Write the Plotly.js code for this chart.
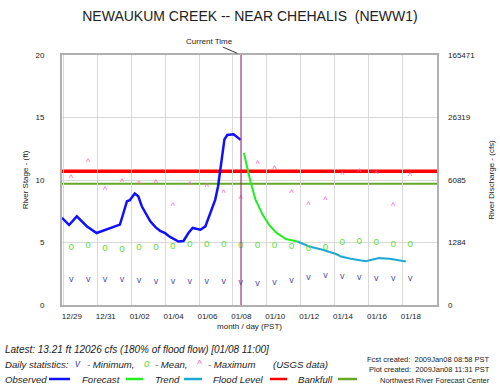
<!DOCTYPE html>
<html><head><meta charset="utf-8">
<script src="https://cdn.plot.ly/plotly-3.0.1.min.js"></script>
<style>html,body{margin:0;padding:0;background:#fff}#chart{width:500px;height:389px}</style>
</head><body><div id="chart"></div>
<script>
// ---------- data ----------
const obsTime = ['2008-12-28 22:00','2008-12-29 08:00','2008-12-29 19:00','2008-12-30 09:00','2008-12-30 23:00',
  '2008-12-31 13:00','2009-01-01 01:00','2009-01-01 08:00','2009-01-01 13:00','2009-01-01 18:00','2009-01-01 22:00',
  '2009-01-02 05:00','2009-01-02 10:00','2009-01-02 15:00','2009-01-03 03:00','2009-01-03 10:00','2009-01-03 17:00',
  '2009-01-04 00:00','2009-01-04 07:00','2009-01-04 19:00','2009-01-05 02:00','2009-01-05 09:00','2009-01-05 15:00',
  '2009-01-06 02:00','2009-01-06 09:00','2009-01-06 16:00','2009-01-06 23:00','2009-01-07 03:00','2009-01-07 06:00',
  '2009-01-07 09:00','2009-01-07 12:00','2009-01-07 16:00','2009-01-08 01:00','2009-01-08 11:00'];
const obsStage = [6.98,6.4,7.09,6.3,5.76,6.02,6.29,6.43,7.36,8.3,8.38,8.92,8.7,7.9,6.7,6.25,5.92,
  5.75,5.45,5.08,5.12,5.76,6.16,6.02,6.29,7.36,8.43,9.5,10.84,12.18,13.25,13.6,13.65,13.21];

const fcstTime = ['2009-01-08 15:30','2009-01-08 20:30','2009-01-09 01:00','2009-01-09 08:00','2009-01-09 18:00',
  '2009-01-10 03:00','2009-01-10 13:00','2009-01-11 03:00','2009-01-11 19:30'];
const fcstStage = [12.18,10.84,9.85,8.43,7.23,6.43,5.81,5.28,5.08];

const trendTime = ['2009-01-11 19:30','2009-01-12 12:00','2009-01-13 07:00','2009-01-14 02:00','2009-01-14 09:00',
  '2009-01-14 23:00','2009-01-15 20:00','2009-01-16 15:00','2009-01-17 06:00','2009-01-18 05:00'];
const trendStage = [5.08,4.68,4.42,4.08,3.88,3.7,3.5,3.75,3.7,3.48];

const statDays = ['2008-12-29 11:00','2008-12-30 11:00','2008-12-31 11:00','2009-01-01 11:00','2009-01-02 11:00',
  '2009-01-03 11:00','2009-01-04 11:00','2009-01-05 11:00','2009-01-06 11:00','2009-01-07 11:00','2009-01-08 11:00',
  '2009-01-09 11:00','2009-01-10 11:00','2009-01-11 11:00','2009-01-12 11:00','2009-01-13 11:00','2009-01-14 11:00',
  '2009-01-15 11:00','2009-01-16 11:00','2009-01-17 11:00','2009-01-18 11:00'];
const statMin  = [2.06,2.06,2.06,2.0,1.93,1.87,1.87,1.87,1.87,1.87,1.79,1.74,1.79,1.95,2.22,2.33,2.28,2.22,2.14,2.14,2.09];
const statMean = [4.6,4.79,4.52,4.47,4.6,4.6,4.66,4.87,4.87,4.87,4.79,4.79,4.79,4.66,4.52,4.6,4.98,5.08,4.98,4.82,4.88];
const statMax  = [10.12,11.38,9.18,9.77,9.64,9.72,7.85,9.58,9.37,8.92,8.43,11.24,10.82,8.92,7.98,8.38,10.36,10.58,10.44,7.9,10.3];

const floodLevel = 10.7;
const bankfull = 9.7;
const currentTime = '2009-01-08 11:31';

const tickDays = ['2008-12-29 12:00','2008-12-31 12:00','2009-01-02 12:00','2009-01-04 12:00','2009-01-06 12:00',
  '2009-01-08 12:00','2009-01-10 12:00','2009-01-12 12:00','2009-01-14 12:00','2009-01-16 12:00','2009-01-18 12:00'];
const tickLabels = ['12/29','12/31','01/02','01/04','01/06','01/08','01/10','01/12','01/14','01/16','01/18'];
const gridDays = ['2008-12-29','2008-12-31','2009-01-02','2009-01-04','2009-01-06','2009-01-08','2009-01-10',
  '2009-01-12','2009-01-14','2009-01-16','2009-01-18'];
const stageTicks = [0,5,10,15,20];
const dischargeLabels = ['0','1284','6085','26319','165471'];

// ---------- styling ----------
const FONT = 'Liberation Sans, Arial, sans-serif';
const TXT = '#222222';
const C = {obs:'#1010ff', fcst:'#22ee22', trend:'#1fa8d2', flood:'#ff0000', bank:'#66a82a',
  cur:'#a0307f', min:'#5050a8', mean:'#66dd44', max:'#ff66bb'};
const PX = p => (p - 62) / 375;
const PY = p => (305 - p) / 250;

const traces = [
  {x: obsTime, y: obsStage, mode:'lines', line:{color:C.obs, width:2.5}, hoverinfo:'skip'},
  {x: fcstTime, y: fcstStage, mode:'lines', line:{color:C.fcst, width:2}, hoverinfo:'skip'},
  {x: trendTime, y: trendStage, mode:'lines', line:{color:C.trend, width:2}, hoverinfo:'skip'},
  {x: statDays, y: statMin, mode:'text', text: statMin.map(()=> 'v'), textposition:'middle center',
   textfont:{family:FONT, size:9, color:C.min}, hoverinfo:'skip'},
  {x: statDays, y: statMean, mode:'text', text: statMean.map(()=> 'o'), textposition:'middle center',
   textfont:{family:FONT, size:10, color:C.mean}, hoverinfo:'skip'},
  {x: statDays, y: statMax, mode:'text', text: statMax.map(()=> '^'), textposition:'middle center',
   textfont:{family:FONT, size:9, color:C.max}, hoverinfo:'skip', yaxis:'y2'}
];

const small = {family:FONT, size:8, color:TXT};
const it = {family:FONT, size:9.6, color:TXT};

const ann = [];
function A(text, px, py, opts) {
  ann.push(Object.assign({text, xref:'paper', yref:'paper', x:PX(px - 1), y:PY(py), xanchor:'left', yanchor:'middle',
    showarrow:false, borderpad:0, font:it}, opts||{}));
}
// current time label
ann.push({text:'Current Time', x: currentTime, xref:'x', y:1, yref:'paper', showarrow:true, arrowhead:0,
  arrowwidth:1, arrowcolor:'#333', ax:-32, ay:-14, standoff:4, font:small});

A('<i>Latest: 13.21 ft 12026 cfs (180% of flood flow) [01/08 11:00]</i>', 5, 349, {font:{family:FONT,size:10,color:TXT}});
A('<i>Daily statistics:</i>', 5, 364);
A('<i>v</i>', 75, 363, {font:{family:FONT,size:10,color:C.min}});
A('<i>- Minimum,</i>', 87, 364);
A('<i>o</i>', 144, 363, {font:{family:FONT,size:10,color:C.mean}});
A('<i>- Mean,</i>', 155, 364);
A('<i>^</i>', 197, 364, {font:{family:FONT,size:10,color:C.max}});
A('<i>- Maximum</i>', 208, 364);
A('<i>(USGS data)</i>', 273, 364);
A('<i>Observed</i>', 5, 379);
A('<i>Forecast</i>', 82, 379);
A('<i>Trend</i>', 155, 379);
A('<i>Flood Level</i>', 213, 379);
A('<i>Bankfull</i>', 298, 379);
const sm = {family:FONT, size:7.5, color:TXT};
A('Fcst created:  2009Jan08 08:58 PST', 492, 359, {xanchor:'right', font:sm});
A('Plot created:  2009Jan08 11:31 PST', 492, 369, {xanchor:'right', font:sm});
A('Northwest River Forecast Center', 492, 380, {xanchor:'right', font:sm});

const swatch = (x0, x1, color) => ({type:'line', xref:'paper', yref:'paper', x0:PX(x0), x1:PX(x1),
  y0:PY(379), y1:PY(379), line:{color, width:2.5}});

const shapes = [
  {type:'line', xref:'paper', x0:0, x1:1, yref:'y', y0:floodLevel, y1:floodLevel, line:{color:C.flood, width:3.5}, layer:'below'},
  {type:'line', xref:'paper', x0:0, x1:1, yref:'y', y0:bankfull, y1:bankfull, line:{color:C.bank, width:2}, layer:'below'},
  {type:'line', xref:'x', x0:currentTime, x1:currentTime, yref:'paper', y0:0, y1:1, line:{color:C.cur, width:1.2}},
  swatch(49, 70, C.obs), swatch(126, 143, C.fcst), swatch(184, 202, C.trend),
  swatch(270, 287, C.flood), swatch(338, 357, C.bank)
];

const layout = {
  width:500, height:389,
  margin:{l:62, r:63, t:55, b:84, pad:0},
  paper_bgcolor:'#fff', plot_bgcolor:'#fff',
  showlegend:false,
  font:{family:FONT, color:TXT},
  title:{text:'NEWAUKUM CREEK -- NEAR CHEHALIS  (NEWW1)', font:{family:FONT, size:14, color:TXT},
    x:0.5, xref:'container', xanchor:'center', y:1-16/389, yref:'container', yanchor:'middle'},
  xaxis:{type:'date', range:['2008-12-28 22:00','2009-01-20 01:00'], fixedrange:true,
    tickmode:'array', tickvals:tickDays, ticktext:tickLabels, showgrid:false, ticks:'',
    tickfont:small, ticklabelstandoff:2,
    minor:{tickmode:'array', tickvals:gridDays, showgrid:true, gridcolor:'#d9d9d9', gridwidth:1, ticks:''},
    showline:true, mirror:true, linecolor:'#b0b0b0', linewidth:2, zeroline:false,
    title:{text:'month / day (PST)', font:small, standoff:4}},
  yaxis:{range:[0,20], fixedrange:true, tickmode:'array', tickvals:stageTicks, ticktext:stageTicks.map(String),
    showgrid:true, gridcolor:'#d9d9d9', gridwidth:1, zeroline:false, ticks:'', tickfont:small,
    ticklabelstandoff:14, showline:true, mirror:true, linecolor:'#b0b0b0', linewidth:2,
    title:{text:'River Stage - (ft)', font:small, standoff:6}},
  yaxis2:{range:[0,20], overlaying:'y', side:'right', fixedrange:true, tickmode:'array', tickvals:stageTicks,
    ticktext:dischargeLabels, showgrid:false, zeroline:false, ticks:'', tickfont:small, ticklabelstandoff:10,
    title:{text:'River Discharge - (cfs)', font:small, standoff:14}},
  shapes, annotations:ann
};

Plotly.newPlot('chart', traces, layout, {staticPlot:true, displayModeBar:false});
</script></body></html>
